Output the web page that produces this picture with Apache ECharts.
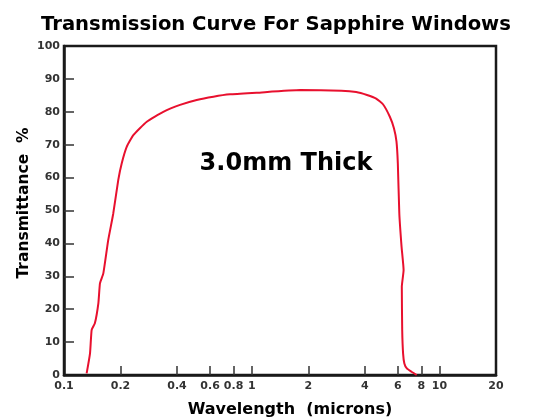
<!DOCTYPE html>
<html>
<head>
<meta charset="utf-8">
<script src="https://cdn.jsdelivr.net/npm/echarts@6/dist/echarts.min.js"></script>
<style>
html,body{margin:0;padding:0;background:#fff;}
#chart{width:553px;height:420px;}
</style>
</head>
<body>
<div id="chart"></div>
<script>
// Wavelength (microns) and transmittance (%), in drawing order
var wavelength = [0.132, 0.1376, 0.1404, 0.146, 0.1524, 0.1555, 0.162, 0.172, 0.183, 0.1946, 0.2029, 0.216, 0.234, 0.276, 0.338, 0.415, 0.509, 0.625, 0.767, 1.06, 1.81, 3.0, 3.6, 4.11, 4.6, 5.0, 5.44, 5.72, 5.9, 6.0, 6.11, 6.28, 6.44, 6.3, 6.33, 6.4, 6.5, 6.7, 7.1, 7.56];
var transmittance = [0.5, 6.6, 13.7, 15.7, 21.8, 27.9, 30.9, 41, 49.1, 59.3, 64.3, 69.4, 72.9, 77, 80, 82.1, 83.6, 84.6, 85.3, 85.8, 86.6, 86.4, 86.0, 85.1, 84.0, 82.3, 78.5, 75, 71, 64.3, 49.1, 39, 31.9, 26.8, 13.7, 6.5, 3.5, 2.0, 1.0, 0];
var yTicks = [0, 10, 20, 30, 40, 50, 60, 70, 80, 90, 100];
var xTickLabels = [0.1, 0.2, 0.4, 0.6, 0.8, 1, 2, 4, 6, 8, 10, 20];
var xTickMarks = [0.2, 0.4, 0.6, 0.8, 1, 2, 4, 6, 8, 10];
var titleText = 'Transmission Curve For Sapphire Windows';
var noteText = '3.0mm Thick';
var xName = 'Wavelength  (microns)';
var yName = 'Transmittance  %';

var points = wavelength.map(function (w, i) { return [w, transmittance[i]]; });
var FONT = 'DejaVu Sans';
var chart = echarts.init(document.getElementById('chart'), null, {renderer: 'canvas'});
chart.setOption({
  animation: false,
  backgroundColor: '#ffffff',
  title: {
    text: titleText,
    left: 36,
    top: 10,
    textStyle: {fontFamily: FONT, fontWeight: 'bold', fontSize: 19.6, color: '#000'}
  },
  grid: {
    left: 64, top: 46, width: 432, height: 329,
    outerBoundsMode: 'none',
    containLabel: false,
    show: true, borderColor: '#1a1a1a', borderWidth: 2.5, backgroundColor: 'transparent'
  },
  xAxis: {
    type: 'log',
    logBase: 10,
    min: 0.1,
    max: 20,
    name: xName,
    nameLocation: 'middle',
    nameMoveOverlap: false,
    nameGap: 27,
    nameTextStyle: {fontFamily: FONT, fontWeight: 'bold', fontSize: 16, color: '#000', padding: [0, 0, 0, 20]},
    axisLine: {show: true, onZero: false, lineStyle: {color: '#1a1a1a', width: 2.5}},
    axisTick: {show: true, inside: true, length: 9, lineStyle: {color: '#333', width: 1.5}, customValues: xTickMarks},
    axisLabel: {
      customValues: xTickLabels,
      margin: 6,
      fontFamily: FONT, fontWeight: 'bold', fontSize: 11, color: '#333',
      formatter: function (v) { return String(+v.toPrecision(3)); }
    },
    splitLine: {show: false},
    minorTick: {show: false}
  },
  yAxis: {
    type: 'value',
    min: 0,
    max: 100,
    interval: 10,
    name: yName,
    nameLocation: 'middle',
    nameMoveOverlap: false,
    nameGap: 32,
    nameRotate: 90,
    nameTextStyle: {fontFamily: FONT, fontWeight: 'bold', fontSize: 15.5, color: '#000', padding: [0, 0, 0, 15]},
    axisLine: {show: true, onZero: false, lineStyle: {color: '#1a1a1a', width: 2.5}},
    axisTick: {show: true, inside: true, length: 10, lineStyle: {color: '#333', width: 1.5}, customValues: yTicks.slice(1, -1)},
    axisLabel: {
      customValues: yTicks,
      margin: 4,
      fontFamily: FONT, fontWeight: 'bold', fontSize: 11, color: '#333'
    },
    splitLine: {show: false}
  },
  series: [{
    type: 'line',
    data: points,
    showSymbol: false,
    smooth: 0.15,
    lineStyle: {color: '#e8102e', width: 2},
    silent: true
  }],
  graphic: [{
    type: 'text',
    x: 286,
    y: 164,
    style: {
      text: noteText,
      fontFamily: FONT, fontWeight: 'bold', fontSize: 24,
      fill: '#000', textAlign: 'center', textVerticalAlign: 'middle'
    }
  }]
});
</script>
</body>
</html>
